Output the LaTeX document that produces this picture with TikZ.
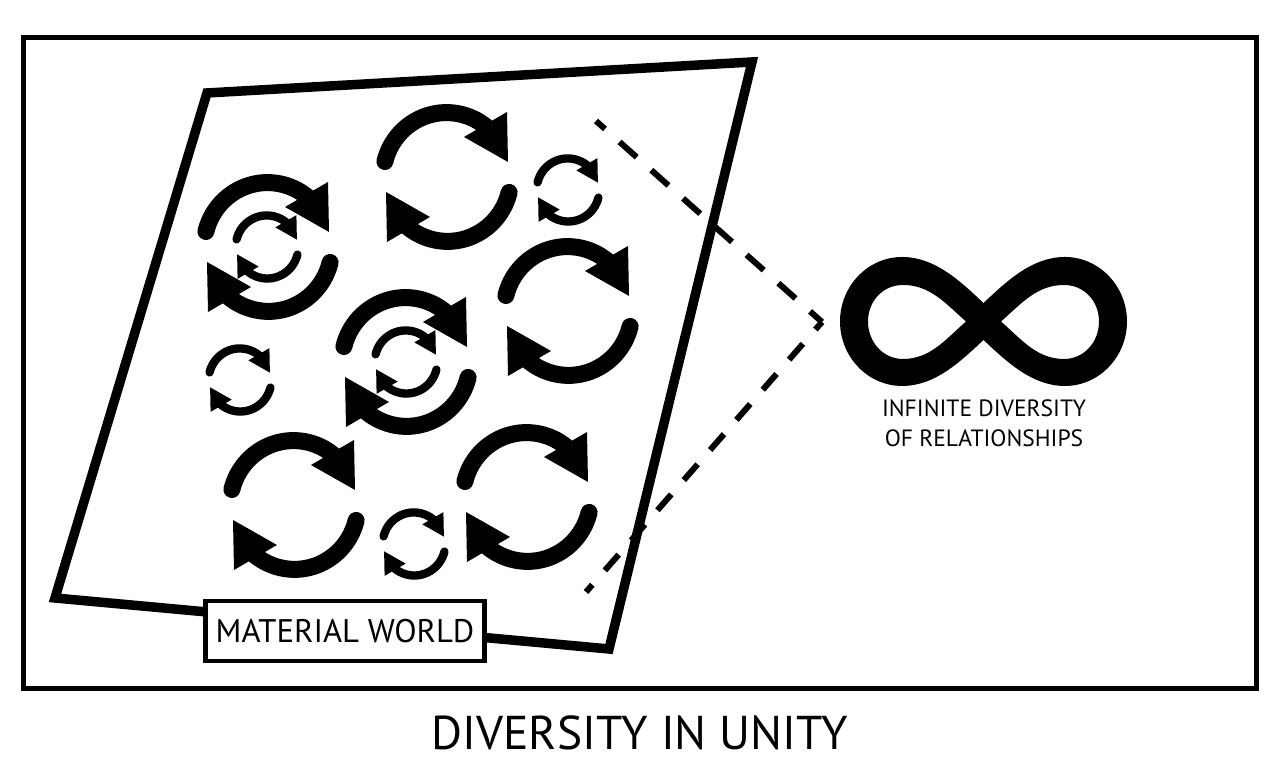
\documentclass[tikz,border=0pt]{standalone}
\usepackage{fontspec}
\setmainfont{PT Sans}
\tikzset{
  frameline/.style={draw=black,line width=0.5mm},
  worldline/.style={draw=black,line width=0.95mm,line join=miter},
  dashline/.style={draw=black,line width=0.6mm},
  labeltext/.style={inner sep=0pt,align=center,text=black},
}
\newcommand{\cyclearrow}[3]{%
  \begin{scope}[shift={(#1,#2)},scale=#3]
    \foreach \turn in {0,180} {
      \draw[white,line width=#3*1.7mm+0.2mm,line cap=round,rotate=\turn] (166:64) arc[start angle=166,end angle=48,x radius=63.5,y radius=64.5];
      \fill[black,rotate=\turn] (61,15) -- (60,65) -- (17,40) -- cycle;
      \draw[black,line width=#3*1.7mm,line cap=round,rotate=\turn] (166:64) arc[start angle=166,end angle=48,x radius=63.5,y radius=64.5];
    }
  \end{scope}}
\begin{document}
\begin{tikzpicture}[x=0.1mm,y=0.1mm]
      \useasboundingbox (0,0) rectangle (1280,774);
      \draw[frameline] (23.5,85.5) rectangle (1256.5,736.5);
      \draw[worldline] (207,681) -- (752,712) -- (609,125) -- (55,176) -- cycle;
      % big cycles
      \foreach \cx/\cy in {447/597,268/527,406/412,568/463,294/269,527/277} {
        \cyclearrow{\cx}{\cy}{1}
      }
      % small cycles
      \foreach \cx/\cy in {267/527,406/412,568/584,240/394,414/230} {
        \cyclearrow{\cx}{\cy}{.49}
      }
      \coordinate (dashtop) at (596,653);
      \coordinate (dashtip) at (822,452);
      \coordinate (dashend) at (586,182);
      \draw[dashline,dash pattern=on 2.3mm off 1.95mm,dash phase=1.1mm] (dashtop) -- (dashtip);
      \draw[dashline,dash pattern=on 2.1mm off 1.9mm,dash phase=1.1mm] (dashtip) -- (dashend);
      % infinity sign, outer contour then the two holes
      \fill[black,even odd rule] (983.5,471) .. controls (960,493) and (935,517) .. (902,517)
        .. controls (868,517) and (840,488) .. (840,452.5)
        .. controls (840,417) and (868,388) .. (902,388)
        .. controls (935,388) and (960,412) .. (983.5,434)
        .. controls (1007,412) and (1032,388) .. (1065,388)
        .. controls (1099,388) and (1127,417) .. (1127,452.5)
        .. controls (1127,488) and (1099,517) .. (1065,517)
        .. controls (1032,517) and (1007,493) .. (983.5,471) -- cycle
        (966,452.5) .. controls (945,471) and (930,489) .. (903,489)
        .. controls (883,489) and (868,473) .. (868,452.5)
        .. controls (868,432) and (883,415) .. (903,415)
        .. controls (930,415) and (945,434) .. (966,452.5) -- cycle
        (1001,452.5) .. controls (1022,471) and (1037,489) .. (1064,489)
        .. controls (1084,489) and (1099,473) .. (1099,452.5)
        .. controls (1099,432) and (1084,415) .. (1064,415)
        .. controls (1037,415) and (1022,434) .. (1001,452.5) -- cycle;
      \node[labeltext,font=\fontsize{6.7}{8.5}\selectfont] (infinitylabel) at (984,350.5) {INFINITE DIVERSITY\\OF RELATIONSHIPS};
      \node[draw=black,fill=white,line width=0.45mm,minimum width=27.9mm,minimum height=6mm,inner sep=0pt,font=\fontsize{9.3}{10}\selectfont] (worldlabel) at (345,143) {MATERIAL WORLD};
      \node[labeltext,font=\fontsize{13.5}{16}\selectfont] (titlelabel) at (640,41) {DIVERSITY IN UNITY};
    \end{tikzpicture}
\end{document}
